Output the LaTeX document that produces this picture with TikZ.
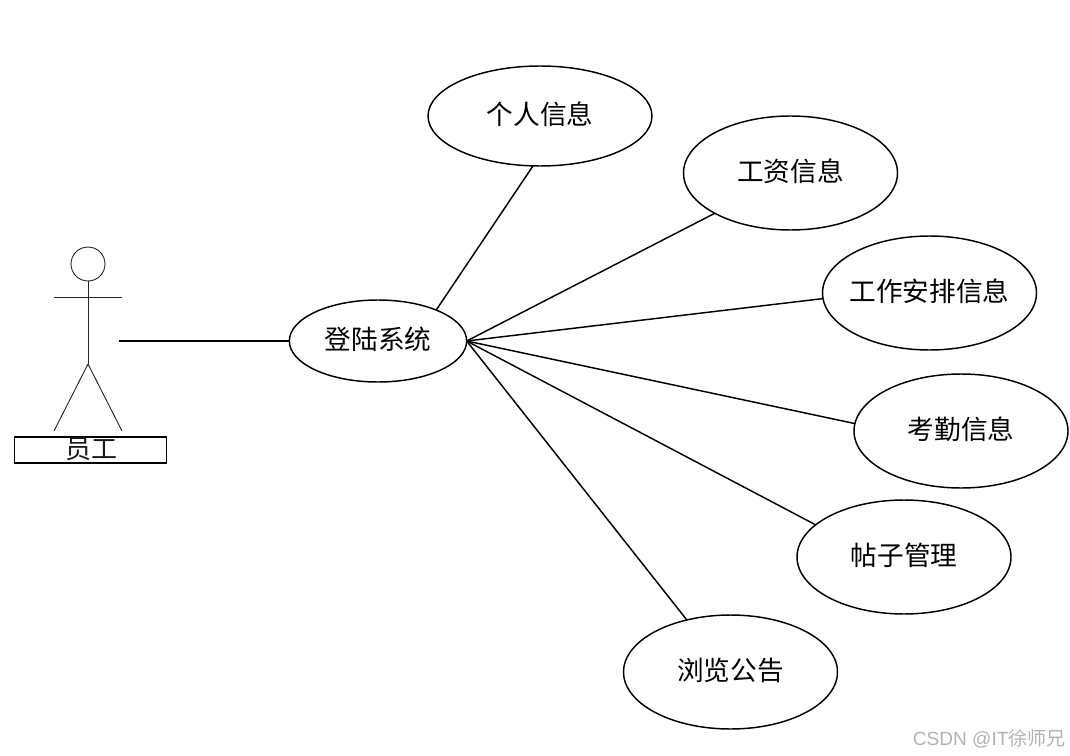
\documentclass[tikz,border=0pt]{standalone}
\usepackage{fontspec}
\setmainfont{Liberation Sans}
\newfontfamily\cjk{Noto Sans CJK SC}[Scale=1]
\usetikzlibrary{shapes.geometric}
\tikzset{
  px/.style={x=0.75pt,y=-0.75pt},
  usecase/.style={ellipse,draw=black,line width=1.1pt,inner sep=0pt,outer sep=0pt,
    minimum width=160.5pt,minimum height=85.5pt,text height=16pt,text depth=3.8pt,font=\cjk\fontsize{20pt}{20pt}\selectfont},
  loginuc/.style={usecase,minimum width=133pt,minimum height=61.5pt},
  link/.style={draw=black,line width=1.1pt},
  stick/.style={draw=black!85,line width=0.7pt},
  namebox/.style={draw=black,line width=1pt,inner sep=0pt,outer sep=0pt,minimum width=114pt,minimum height=19.5pt},
  nametext/.style={inner sep=0pt,font=\cjk\fontsize{19.5pt}{19.5pt}\selectfont,text=black!90},
  wmark/.style={inner sep=0pt,anchor=east,text=black!30,font=\fontsize{14.3pt}{15pt}\selectfont}
}
\begin{document}
\begin{tikzpicture}[px]
\useasboundingbox (0,0) rectangle (1070,756);
\node[loginuc] (login) at (378,341) {登陆系统};
\node[usecase,minimum width=168pt,minimum height=75pt] (info) at (540,116) {个人信息};
\node[usecase] (salary) at (790.5,173) {工资信息};
\node[usecase,inner xsep=-5pt] (work) at (929.5,293) {工作安排信息};
\node[usecase] (attend) at (961,431) {考勤信息};
\node[usecase] (posts) at (904,557) {帖子管理};
\node[usecase] (notice) at (730.5,672) {浏览公告};
\draw[link] (login.28.5) -- (info.262);
\draw[link] (login.east) -- (salary.208.7);
\draw[link] (login.east) -- (work.183);
\draw[link] (login.east) -- (attend.176);
\draw[link] (login.east) -- (posts.160.4);
\draw[link] (login.east) -- (notice.130.2);
% actor
\node[circle,stick,inner sep=0pt,outer sep=0pt,minimum size=25.5pt] (head) at (88,264) {};
\coordinate (hip) at (88,364);
\coordinate (armL) at (54,297);
\coordinate (armR) at (122,297);
\coordinate (footL) at (54,431);
\coordinate (footR) at (122,431);
\draw[stick] (head.south) -- (hip);
\draw[stick] (armL) -- (armR);
\draw[stick] (hip) -- (footL);
\draw[stick] (hip) -- (footR);
\node[namebox] (namebox) at (90.5,450) {};
\node[nametext] (name) at (91,449) {员工};
\coordinate (actorhand) at (119,341);
\draw[link] (actorhand) -- (login.west);
\node[wmark] (wm) at (1066,739) {CSDN @IT{\cjk 徐师兄}};
\end{tikzpicture}
\end{document}
